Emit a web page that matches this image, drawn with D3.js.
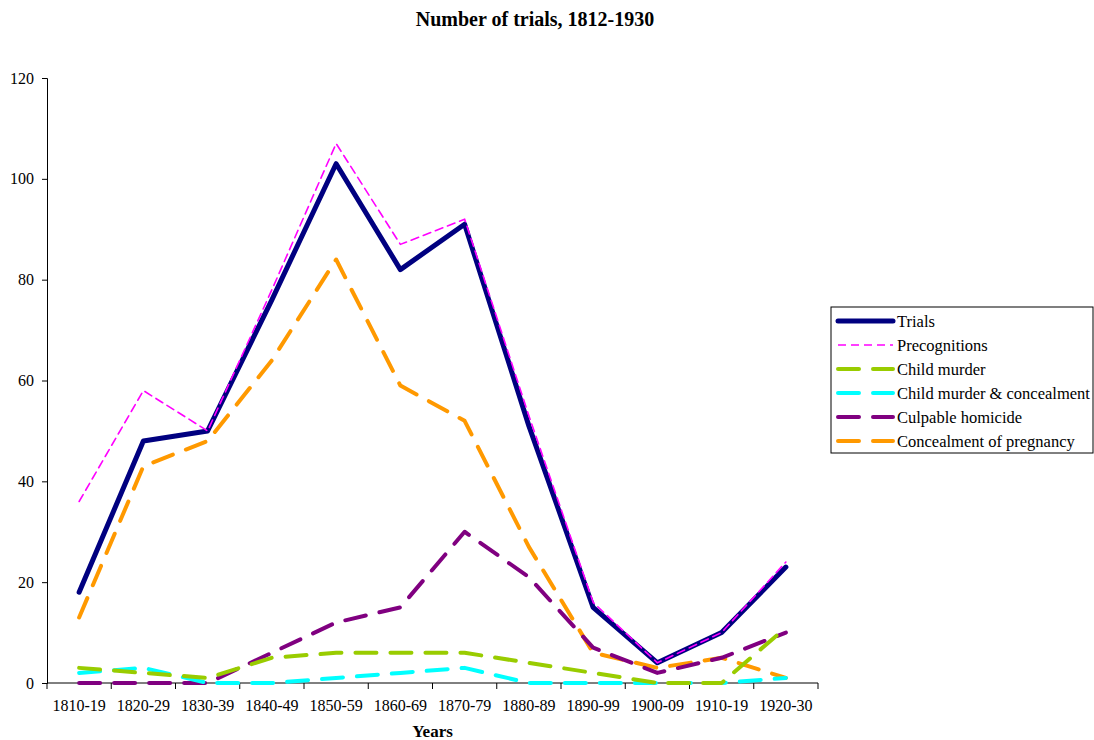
<!DOCTYPE html>
<html>
<head>
<meta charset="utf-8">
<script src="https://cdn.jsdelivr.net/npm/d3@7"></script>
<style>
    body { margin: 0; background: #fff; }
    svg { font-family: "Liberation Serif", "Times New Roman", serif; }
</style>
</head>
<body>
<svg id="svg" width="1094" height="740"></svg>
<script>
// decades along the x axis
const decades = ['1810-19', '1820-29', '1830-39', '1840-49', '1850-59', '1860-69',
    '1870-79', '1880-89', '1890-99', '1900-09', '1910-19', '1920-30'];

// series values
const trials        = [18, 48, 50, 76, 103, 82, 91, 51, 15, 4, 10, 23];
const precognitions = [36, 58, 50, 78, 107, 87, 92, 53, 16, 4, 10, 24];
const childMurder   = [3, 2, 1, 5, 6, 6, 6, 4, 2, 0, 0, 11];
const childMurderConc = [2, 3, 0, 0, 1, 2, 3, 0, 0, 0, 0, 1];
const culpable      = [0, 0, 0, 6, 12, 15, 30, 21, 7, 2, 5, 10];
const concealment   = [13, 43, 48, 64, 84, 59, 52, 27, 6, 3, 5, 1];

const yTicks = [0, 20, 40, 60, 80, 100, 120];

// drawing order: back to front
let series = [
    {name: 'Concealment of pregnancy', values: concealment, color: '#ff9900', width: 4, dash: '21,14'},
    {name: 'Culpable homicide', values: culpable, color: '#800080', width: 4, dash: '21,14'},
    {name: 'Child murder & concealment', values: childMurderConc, color: '#00ffff', width: 4, dash: '21,14'},
    {name: 'Child murder', values: childMurder, color: '#99cc00', width: 4, dash: '21,14'},
    {name: 'Trials', values: trials, color: '#000080', width: 5, dash: null},
    {name: 'Precognitions', values: precognitions, color: '#ff00ff', width: 1.6, dash: '8,5'}
];
let legendOrder = ['Trials', 'Precognitions', 'Child murder', 'Child murder & concealment',
    'Culpable homicide', 'Concealment of pregnancy'];

let svg = d3.select('#svg');
let margin = {top: 78, left: 47, right: 276, bottom: 57};
let width = 1094, height = 740;

let x = d3.scaleBand()
    .domain(decades)
    .range([margin.left, width - margin.right]);
let y = d3.scaleLinear()
    .domain([0, 120])
    .range([height - margin.bottom, margin.top]);

// title
svg.append('text')
    .attr('x', 535)
    .attr('y', 26)
    .attr('text-anchor', 'middle')
    .style('font-weight', 'bold')
    .style('font-size', '20px')
    .text('Number of trials, 1812-1930');

// y axis
let yAxis = svg.append('g')
    .attr('transform', `translate(${margin.left},0)`)
    .call(d3.axisLeft(y).tickValues(yTicks).tickSize(5).tickPadding(8));
yAxis.selectAll('text').style('font-size', '16px').style('font-family', '"Liberation Serif", serif').attr('fill', '#000');
yAxis.select('.domain').attr('stroke', '#000');

// x axis, ticks at the band edges
let xAxis = svg.append('g')
    .attr('transform', `translate(0,${y(0)})`)
    .call(d3.axisBottom(x).tickSize(0).tickPadding(17));
xAxis.select('.domain').attr('stroke', '#000').attr('d', `M${margin.left},0H${width - margin.right}`);
xAxis.selectAll('text').style('font-size', '16px').style('font-family', '"Liberation Serif", serif').attr('fill', '#000');
xAxis.selectAll('.edge')
    .data(decades.concat(['end']))
    .join('line')
    .attr('x1', (d, i) => margin.left + i * x.step())
    .attr('x2', (d, i) => margin.left + i * x.step())
    .attr('y1', 0)
    .attr('y2', 6)
    .attr('stroke', '#000');

svg.append('text')
    .attr('x', (margin.left + width - margin.right) / 2)
    .attr('y', 737)
    .attr('text-anchor', 'middle')
    .style('font-weight', 'bold')
    .style('font-size', '17px')
    .text('Years');

// lines
let line = d3.line()
    .x((d, i) => x(decades[i]) + x.bandwidth() / 2)
    .y(d => y(d));

svg.append('g')
    .selectAll('path')
    .data(series)
    .join('path')
    .attr('d', d => line(d.values))
    .attr('fill', 'none')
    .attr('stroke', d => d.color)
    .attr('stroke-width', d => d.width)
    .attr('stroke-dasharray', d => d.dash)
    .attr('stroke-linecap', 'round')
    .attr('stroke-linejoin', 'round');

// legend
let legend = svg.append('g').attr('transform', 'translate(831,307)');
legend.append('rect')
    .attr('width', 262)
    .attr('height', 146)
    .attr('fill', '#fff')
    .attr('stroke', '#000');

let rows = legend.selectAll('.row')
    .data(legendOrder.map(n => series.find(s => s.name === n)))
    .join('g')
    .attr('transform', (d, i) => `translate(0,${14 + i * 24})`);
rows.append('line')
    .attr('x1', 7)
    .attr('x2', 62)
    .attr('stroke', d => d.color)
    .attr('stroke-width', d => d.width)
    .attr('stroke-dasharray', d => d.dash ? (d.dash === '8,5' ? '8,5' : '21,14') : null)
    .attr('stroke-linecap', d => d.dash === '8,5' ? 'butt' : 'round');
rows.append('text')
    .attr('x', 66)
    .attr('y', 6)
    .style('font-size', '16.5px')
    .text(d => d.name);
</script>
</body>
</html>
